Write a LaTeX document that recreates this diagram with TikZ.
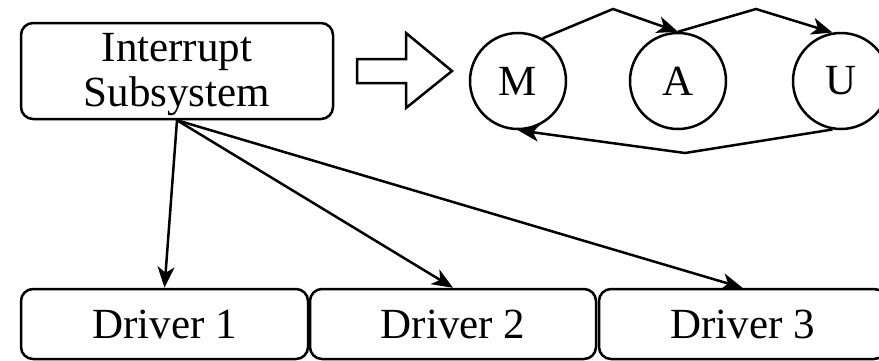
\documentclass[tikz,border=0pt]{standalone}
\usepackage{fontspec}
\setmainfont{Liberation Serif}
\usetikzlibrary{arrows.meta}
\begin{document}
\begin{tikzpicture}[x=1pt, y=-1pt, line width=2.5pt,
  txt/.style={font=\fontsize{43}{45}\selectfont, inner sep=0pt},
  box/.style={draw, rounded corners=12pt, inner sep=0pt, txt},
  state/.style={draw, circle, minimum size=96pt, inner sep=0pt, txt},
  flow/.style={-{Stealth[length=21pt, width=17pt, inset=6pt]}, line join=miter}]
\useasboundingbox (0,0) rectangle (879,360);

% subsystem box and its label
\node[box, minimum width=312pt, minimum height=96pt] (sys) at (177,71) {};
\node[txt, align=center] (systext) at (177,75) {Interrupt\\Subsystem};

% hollow "becomes" arrow
\draw[line join=miter] (357,59) -- (406,59) -- (406,33) -- (452,71)
  -- (406,108) -- (406,83) -- (357,83) -- cycle;

% state machine
\node[state] (M) at (518,81) {M};
\node[state] (A) at (678,81) {A};
\node[state] (U) at (841,81) {U};
\coordinate (ma) at (613,9);
\coordinate (au) at (756,9);
\coordinate (um) at (685,153);
\draw[flow] (M.60) -- (ma) -- (A.north);
\draw[flow] (A.north) -- (au) -- (U.100);
\draw[flow] (U.260) -- (um) -- (M.south);

% drivers
\node[box, minimum width=287pt, minimum height=70pt] (d1) at (164.5,324) {Driver 1};
\node[box, minimum width=286pt, minimum height=70pt] (d2) at (453,324) {Driver 2};
\node[box, minimum width=287pt, minimum height=70pt] (d3) at (742.5,324) {Driver 3};

\draw[flow] (sys.south) -- (d1.north);
\draw[flow] (sys.south) -- (d2.north);
\draw[flow] (sys.south) -- (d3.north);
\end{tikzpicture}
\end{document}
